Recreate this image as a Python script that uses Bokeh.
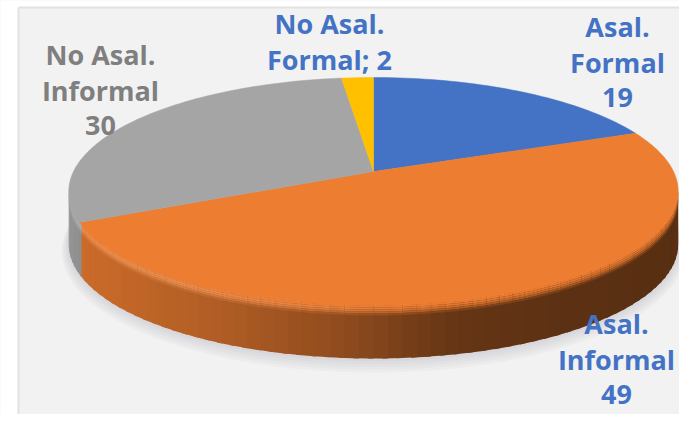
import math
from bokeh.plotting import figure
from bokeh.models import ColumnDataSource
from bokeh.core.properties import value
from bokeh.embed import file_html
from bokeh.resources import INLINE

categories = ["Asal. Formal", "Asal. Informal", "No Asal. Informal", "No Asal. Formal"]
values = [19, 49, 30, 2]
colors = [(68, 114, 196), (237, 125, 49), (165, 165, 165), (255, 192, 0)]

label_lines = [["Asal.", "Formal", "19"], ["Asal.", "Informal", "49"],
               ["No Asal.", "Informal", "30"], ["No Asal.", "Formal; 2"]]
label_xy = [(617, 26), (616, 323), (100, 54), (329, 23)]
label_colors = ["#4472C4", "#4472C4", "#7F7F7F", "#4472C4"]
LINE_H = 35.5

CX, CY, A, B, K, DEPTH = 373.0, 171.0, 300.0, 110.5, 0.1754, 53.0


def project(t, dy=0.0, grow=0.0):
    u, v = math.sin(t), math.cos(t)
    w = 1 + K * v
    return CX + (A + grow) * u / w, CY - (B + grow) * v / w + dy


def hexc(c):
    return "#%02x%02x%02x" % tuple(int(max(0, min(255, round(x)))) for x in c)


def mix(a, b, f):
    return tuple(a[i] + (b[i] - a[i]) * f for i in range(3))


def shade(x):
    pts = [(67, 0.90), (85, 0.85), (220, 0.74), (340, 0.60), (450, 0.43), (560, 0.39), (680, 0.37)]
    for (x0, s0), (x1, s1) in zip(pts, pts[1:]):
        if x <= x1:
            return s0 + (s1 - s0) * max(0, x - x0) / (x1 - x0)
    return pts[-1][1]


p = figure(width=679, height=414, x_range=(0, 679), y_range=(414, 0),
           output_backend="svg", toolbar_location=None, min_border=0,
           background_fill_color="#f2f2f2", border_fill_color="#f2f2f2")
p.axis.visible = False
p.grid.visible = False
p.outline_line_color = None

# panel
p.quad(left=[0], right=[18], top=[0], bottom=[414], fill_color="white", line_color=None)
p.quad(left=[0], right=[679], top=[0], bottom=[7], fill_color="white", line_color=None)
p.line([18, 18], [7, 414], line_color="#e2e2e2", line_width=2)
p.line([18, 679], [7, 7], line_color="#e2e2e2", line_width=2)

total = sum(values)
edges = [0.0]
for v_ in values:
    edges.append(edges[-1] + v_ / total * 2 * math.pi)

right_sil = math.acos(-K)
left_sil = 2 * math.pi - right_sil

# soft shadow under the disc
N = 120
ts = [right_sil - 0.2 + (left_sil - right_sil + 0.4) * i / N for i in range(N + 1)]
for i in range(6):
    g = i * 1.4
    xs = [project(t, DEPTH + g * 0.8, g)[0] for t in ts]
    ys = [project(t, DEPTH + g * 0.8, g)[1] for t in ts]
    p.patch(xs, ys, fill_color="#8a8f94", fill_alpha=0.05, line_color=None)


def slice_at(t):
    for i in range(len(values)):
        if edges[i] <= t < edges[i + 1]:
            return i
    return len(values) - 1


# wall strips plus a bevel blending the top face into the wall
STEPS = 70
BANDS = [(0, 2), (2, 4), (4, 6), (6, 8), (8, 10)]
wx, wy, wc = [], [], []
for s in range(STEPS):
    t0 = right_sil + (left_sil - right_sil) * s / STEPS
    t1 = right_sil + (left_sil - right_sil) * (s + 1.4) / STEPS
    mid = (t0 + t1) / 2
    base = colors[slice_at(mid)]
    xm = project(mid)[0]
    side = tuple(c * shade(xm) for c in base)
    a0, a1 = project(t0), project(t1)
    b0, b1 = project(t1, DEPTH), project(t0, DEPTH)
    wx.append([a0[0], a1[0], b0[0], b1[0]])
    wy.append([a0[1], a1[1], b0[1], b1[1]])
    wc.append(hexc(side))
    glow = max(0.0, min(1.0, (430 - xm) / 250))
    light = mix(base, (255, 255, 255), 0.2 * glow)
    for k, (d0, d1) in enumerate(BANDS):
        f = (k + 0.5) / len(BANDS)
        col = mix(mix(base, light, min(1, f * 2.5)), side, f * f)
        q0, q1 = project(t0, d0), project(t1, d0)
        q2, q3 = project(t1, d1), project(t0, d1)
        wx.append([q0[0], q1[0], q2[0], q3[0]])
        wy.append([q0[1], q1[1], q2[1], q3[1]])
        wc.append(hexc(col))
p.patches("x", "y", fill_color="c", line_color=None,
          source=ColumnDataSource(dict(x=wx, y=wy, c=wc)))

# top faces
fx, fy, fc = [], [], []
for i in range(len(values)):
    n = max(4, int((edges[i + 1] - edges[i]) * 40))
    pts = [project(edges[i] + (edges[i + 1] - edges[i]) * j / n) for j in range(n + 1)]
    fx.append([CX] + [q[0] for q in pts])
    fy.append([CY] + [q[1] for q in pts])
    fc.append(hexc(colors[i]))
p.patches("x", "y", fill_color="c", line_color="c", line_width=0.5,
          source=ColumnDataSource(dict(x=fx, y=fy, c=fc)))

# labels
tx, ty, tt, tc = [], [], [], []
for lines, (lx, ly), col in zip(label_lines, label_xy, label_colors):
    for j, s in enumerate(lines):
        tx.append(lx)
        ty.append(ly + j * LINE_H)
        tt.append(s)
        tc.append(col)
p.text("x", "y", text="t", text_color="c", text_align="center", text_baseline="middle",
       text_font=value("Open Sans"), text_font_size="27px", text_font_style="bold",
       source=ColumnDataSource(dict(x=tx, y=ty, t=tt, c=tc)))

open("out.html", "w").write(file_html(p, INLINE))
